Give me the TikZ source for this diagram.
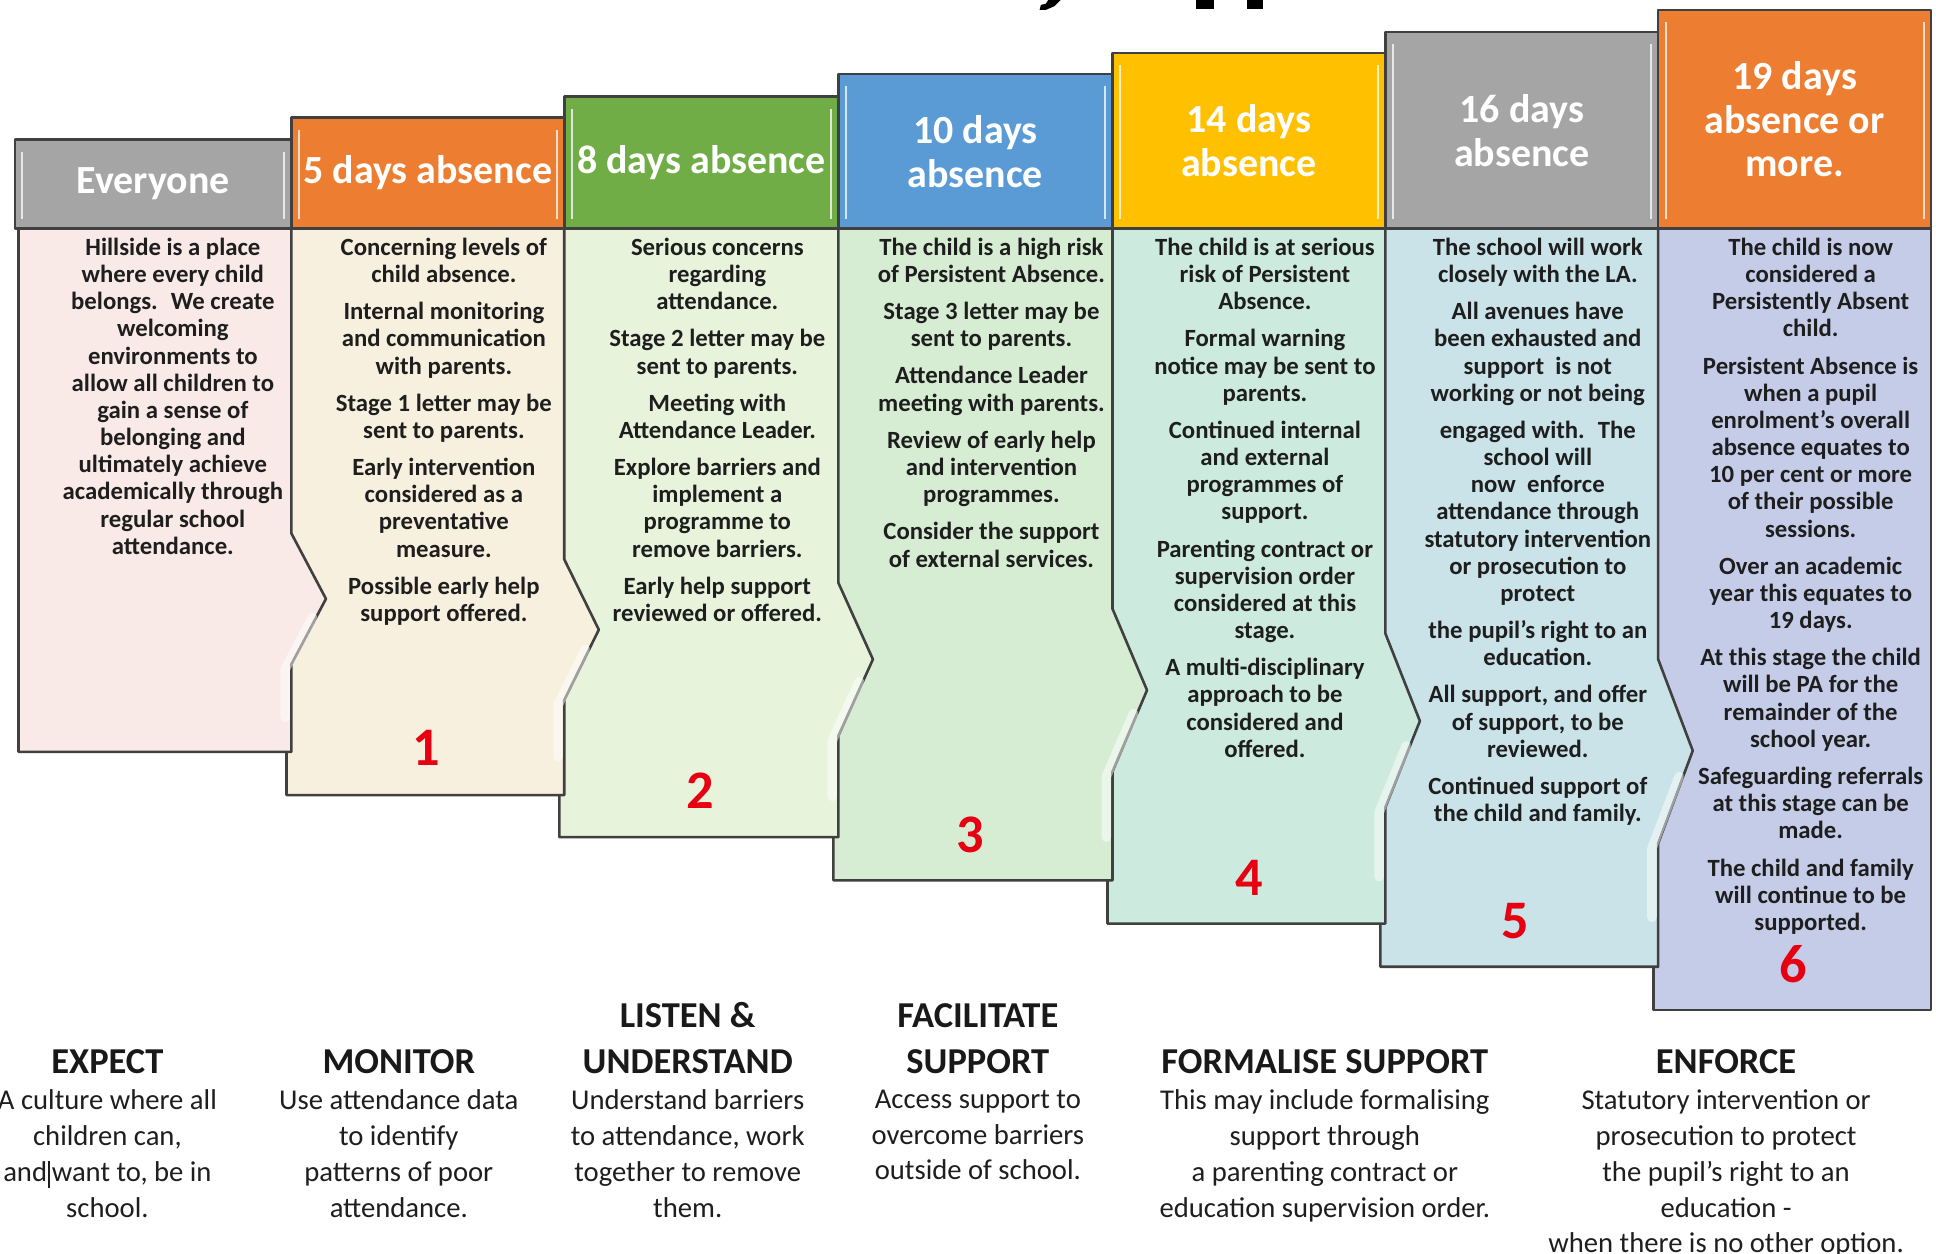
\documentclass[tikz,border=0pt]{standalone}
\usepackage{fontspec}
\setmainfont{Carlito}
\usetikzlibrary{positioning}
\definecolor{hdgray}{RGB}{165,165,165}
\definecolor{hdorange}{RGB}{237,125,49}
\definecolor{hdgreen}{RGB}{112,173,71}
\definecolor{hdblue}{RGB}{91,155,213}
\definecolor{hdgold}{RGB}{255,192,0}
\definecolor{bdpink}{RGB}{249,233,231}
\definecolor{bdcream}{RGB}{247,240,222}
\definecolor{bdlime}{RGB}{232,243,220}
\definecolor{bdgreen}{RGB}{214,237,211}
\definecolor{bdmint}{RGB}{204,235,222}
\definecolor{bdblue}{RGB}{201,227,232}
\definecolor{bdlav}{RGB}{197,204,232}
\definecolor{boxedge}{RGB}{64,64,64}
\definecolor{inktext}{RGB}{30,30,30}
\definecolor{stepred}{RGB}{230,0,18}

\begin{document}
\begin{tikzpicture}[x=0.01cm,y=-0.01cm,
  box/.style={draw=boxedge,line width=0.6pt,line join=round},
  shine/.style={draw=white,opacity=0.5,line width=2.2pt,line cap=round,line join=round},
  bevel/.style={draw=white,opacity=0.75,line width=0.5pt},
  headtext/.style={font=\fontsize{9.2}{10.1}\selectfont\bfseries,text=white,align=center,inner sep=0pt},
  bodytext/.style={font=\fontsize{5.7}{6.26}\selectfont\bfseries,text=inktext,align=center,inner sep=0pt,anchor=north},
  stepnum/.style={font=\fontsize{12.5}{12.5}\selectfont\bfseries,text=stepred,inner sep=0pt},
  aimhead/.style={font=\fontsize{8.4}{10.5}\selectfont\bfseries,text=black!90,align=center,inner sep=0pt,anchor=south},
  aimtext/.style={font=\fontsize{6.6}{8.25}\selectfont,text=inktext,align=center,inner sep=0pt}]
\useasboundingbox (0,0) rectangle (1568,1015);
\fill[white] (0,0) rectangle (1568,1015);

\fill[black] (849,0) -- (859,0) -- (854,5) -- (847,8) -- (842,8) -- (843,4) -- (847,3) -- cycle;
\fill[black] (969,0) rectangle (983,7);
\fill[black] (1010,0) rectangle (1023,7);

\draw[box,fill=bdlav] (1339,185) rectangle (1564,818);
\draw[box,fill=bdblue] (1118,185) -- (1343,185) -- (1343,534) -- (1371,608) -- (1343,683) -- (1343,783) -- (1118,783) -- cycle;
\draw[box,fill=bdmint] (897,185) -- (1122,185) -- (1122,513) -- (1150,584) -- (1122,654) -- (1122,748) -- (897,748) -- cycle;
\draw[box,fill=bdgreen] (675,185) -- (901,185) -- (901,493) -- (929,559) -- (901,625) -- (901,713) -- (675,713) -- cycle;
\draw[box,fill=bdlime] (453,185) -- (679,185) -- (679,472) -- (707,534) -- (679,596) -- (679,678) -- (453,678) -- cycle;
\draw[box,fill=bdcream] (232,185) -- (457,185) -- (457,453) -- (485,510) -- (457,567) -- (457,644) -- (232,644) -- cycle;
\draw[box,fill=bdpink] (15,185) -- (236,185) -- (236,432) -- (264,485) -- (236,538) -- (236,609) -- (15,609) -- cycle;

\draw[shine] (253,500) -- (231,542) -- (231,581);
\draw[shine] (474,526) -- (452,571) -- (452,613);
\draw[shine] (696,552) -- (674,600) -- (674,645);
\draw[shine] (918,578) -- (896,629) -- (896,678);
\draw[shine] (1139,604) -- (1117,658) -- (1117,710);
\draw[shine] (1360,629) -- (1338,687) -- (1338,743);

\draw[box,fill=hdgray] (12,113) rectangle (236,185);
\draw[box,fill=hdorange] (236,95) rectangle (457,185);
\draw[box,fill=hdgreen] (457,78) rectangle (679,185);
\draw[box,fill=hdblue] (679,60) rectangle (901,185);
\draw[box,fill=hdgold] (901,43) rectangle (1122,185);
\draw[box,fill=hdgray] (1122,26) rectangle (1343,185);
\draw[box,fill=hdorange] (1343,8) rectangle (1564,185);

\draw[bevel] (18,123) -- (18,177) (230,123) -- (230,177);
\draw[bevel] (242,105) -- (242,177) (451,105) -- (451,177);
\draw[bevel] (463,88) -- (463,177) (673,88) -- (673,177);
\draw[bevel] (685,70) -- (685,177) (895,70) -- (895,177);
\draw[bevel] (907,53) -- (907,177) (1116,53) -- (1116,177);
\draw[bevel] (1128,36) -- (1128,177) (1337,36) -- (1337,177);
\draw[bevel] (1349,18) -- (1349,177) (1558,18) -- (1558,177);

\node[headtext] (head0) at (124,149) {Everyone};
\node[headtext] (head1) at (346.5,140) {5 days absence};
\node[headtext] (head2) at (568,131.5) {8 days absence};
\node[headtext] (head3) at (790,122.5) {10 days\\absence};
\node[headtext] (head4) at (1011.5,114) {14 days\\absence};
\node[headtext] (head5) at (1232.5,105.5) {16 days\\absence};
\node[headtext] (head6) at (1453.5,96.5) {19 days\\absence or\\more.};

\node[bodytext] (body0) at (140,192) {Hillside is a place\\where every child\\belongs.~ We create\\welcoming\\environments to\\allow all children to\\gain a sense of\\belonging and\\ultimately achieve\\academically through\\regular school\\attendance.};
\node[bodytext] (body1) at (359.5,192) {Concerning levels of\\child absence.\\[2.3pt]Internal monitoring\\and communication\\with parents.\\[2.3pt]Stage 1 letter may be\\sent to parents.\\[2.3pt]Early intervention\\considered as a\\preventative\\measure.\\[2.3pt]Possible early help\\support offered.};
\node[bodytext] (body2) at (581,192) {Serious concerns\\regarding\\attendance.\\[2.3pt]Stage 2 letter may be\\sent to parents.\\[2.3pt]Meeting with\\Attendance Leader.\\[2.3pt]Explore barriers and\\implement a\\programme to\\remove barriers.\\[2.3pt]Early help support\\reviewed or offered.};
\node[bodytext] (body3) at (803,192) {The child is a high risk\\of Persistent Absence.\\[2.3pt]Stage 3 letter may be\\sent to parents.\\[2.3pt]Attendance Leader\\meeting with parents.\\[2.3pt]Review of early help\\and intervention\\programmes.\\[2.3pt]Consider the support\\of external services.};
\node[bodytext] (body4) at (1024.5,192) {The child is at serious\\risk of Persistent\\Absence.\\[2.3pt]Formal warning\\notice may be sent to\\parents.\\[2.3pt]Continued internal\\and external\\programmes of\\support.\\[2.3pt]Parenting contract or\\supervision order\\considered at this\\stage.\\[2.3pt]A multi-disciplinary\\approach to be\\considered and\\offered.};
\node[bodytext] (body5) at (1245.5,192) {The school will work\\closely with the LA.\\[2.3pt]All avenues have\\been exhausted and\\support~ is not\\working or not being\\[2.3pt]engaged with.~ The\\school will\\now~ enforce\\attendance through\\statutory intervention\\or prosecution to\\protect\\[2.3pt]the pupil’s right to an\\education.\\[2.3pt]All support, and offer\\of support, to be\\reviewed.\\[2.3pt]Continued support of\\the child and family.};
\node[bodytext] (body6) at (1466.5,192) {The child is now\\considered a\\Persistently Absent\\child.\\[2.3pt]Persistent Absence is\\when a pupil\\enrolment’s overall\\absence equates to\\10 per cent or more\\of their possible\\sessions.\\[2.3pt]Over an academic\\year this equates to\\19 days.\\[2.3pt]At this stage the child\\will be PA for the\\remainder of the\\school year.\\[2.3pt]Safeguarding referrals\\at this stage can be\\made.\\[2.3pt]The child and family\\will continue to be\\supported.};

\node[stepnum] (num1) at (345,606) {1};
\node[stepnum] (num2) at (567,640) {2};
\node[stepnum] (num3) at (786,676) {3};
\node[stepnum] (num4) at (1012,711) {4};
\node[stepnum] (num5) at (1227,746) {5};
\node[stepnum] (num6) at (1452,781) {6};

\node[aimhead] (expect) at (87,870) {EXPECT};
\node[aimhead] (monitor) at (323,870) {MONITOR};
\node[aimhead] (listen) at (557,870) {LISTEN \&\\UNDERSTAND};
\node[aimhead] (facilitate) at (792,870) {FACILITATE\\SUPPORT};
\node[aimhead] (formalise) at (1073,870) {FORMALISE SUPPORT};
\node[aimhead] (enforce) at (1398,870) {ENFORCE};

\node[aimtext,below=0.12cm of expect] (expecttxt) {A culture where all\\children can,\\and\hspace{0.04em}\rule[-0.22em]{0.3pt}{0.95em}\hspace{0.08em}want to, be in\\school.};
\node[aimtext,below=0.12cm of monitor] (monitortxt) {Use attendance data\\to identify\\patterns of poor\\attendance.};
\node[aimtext,below=0.12cm of listen] (listentxt) {Understand barriers\\to attendance, work\\together to remove\\them.};
\node[aimtext,below=0.12cm of facilitate] (facilitatetxt) {Access support to\\overcome barriers\\outside of school.};
\node[aimtext,below=0.12cm of formalise] (formalisetxt) {This may include formalising\\support through\\a parenting contract or\\education supervision order.};
\node[aimtext,below=0.12cm of enforce] (enforcetxt) {Statutory intervention or\\prosecution to protect\\the pupil’s right to an\\education -\\when there is no other option.};

\end{tikzpicture}
\end{document}
